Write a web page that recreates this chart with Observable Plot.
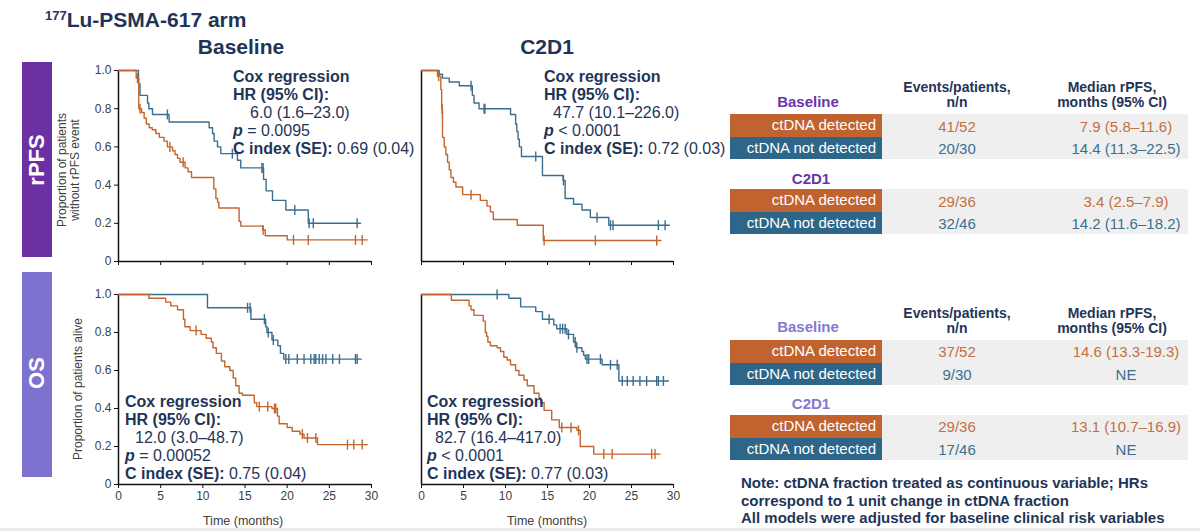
<!DOCTYPE html>
<html>
<head>
<meta charset="utf-8">
<script src="https://cdn.jsdelivr.net/npm/d3@7"></script>
<script src="https://cdn.jsdelivr.net/npm/@observablehq/plot@0.6"></script>
<style>
  body { margin: 0; background: #fff; }
  #page { position: relative; width: 1200px; height: 531px; overflow: hidden;
          font-family: "Liberation Sans", Arial, sans-serif; color: #1f3557; background: #fff; }
  .abs { position: absolute; white-space: nowrap; }
  .plot { position: absolute; }
</style>
</head>
<body>
<div id="page"></div>
<script>
// ---- axes ----
const timeTicks = [0, 5, 10, 15, 20, 25, 30];
const survTicks = [0, 0.2, 0.4, 0.6, 0.8, 1.0];

// ---- Kaplan–Meier step data: time of each drop (months) and survival after it ----
// rPFS, baseline sample
const rpfsBaseDetT = [0, 2.1, 2.4, 2.73, 3.04, 3.3, 3.64, 4.0, 4.43, 4.85, 5.4, 5.8, 6.4, 6.7, 7.0, 7.3, 7.9, 8.25, 8.66, 11.3, 11.55, 11.75, 11.9, 14.3, 14.5, 17.1, 17.4, 20.0, 29.5];
const rpfsBaseDetS = [1, 0.96, 0.80, 0.78, 0.75, 0.72, 0.70, 0.69, 0.67, 0.65, 0.63, 0.60, 0.58, 0.56, 0.54, 0.52, 0.49, 0.47, 0.44, 0.38, 0.33, 0.31, 0.28, 0.21, 0.185, 0.165, 0.135, 0.113, 0.113];
const rpfsBaseDetCens = [2.25, 2.55, 6.09, 7.67, 17.15, 20.75, 22.5, 28.1, 28.9];
const rpfsBaseNotT = [0, 2.37, 2.55, 3.44, 3.6, 4.03, 6.0, 10.75, 11.15, 11.34, 11.74, 12.13, 14.1, 14.5, 17.2, 17.5, 18.26, 19.84, 22.5, 28.7];
const rpfsBaseNotS = [1, 0.93, 0.87, 0.83, 0.80, 0.77, 0.73, 0.70, 0.67, 0.63, 0.60, 0.565, 0.53, 0.49, 0.43, 0.37, 0.32, 0.27, 0.20, 0.20];
const rpfsBaseNotCens = [5.8, 13.5, 17.0, 17.15, 20.9, 22.6, 23.1, 28.3];
// rPFS, C2D1 sample
const rpfsC2DetT = [0, 1.9, 2.3, 2.4, 2.5, 2.7, 2.9, 3.1, 3.3, 3.5, 3.8, 4.1, 4.9, 7.0, 7.8, 8.2, 8.55, 11.4, 14.5, 28.5];
const rpfsC2DetS = [1, 0.97, 0.90, 0.80, 0.65, 0.60, 0.56, 0.52, 0.48, 0.44, 0.415, 0.39, 0.35, 0.32, 0.29, 0.26, 0.22, 0.19, 0.11, 0.11];
const rpfsC2DetCens = [2.05, 2.45, 5.9, 14.6, 20.7, 28.0];
const rpfsC2NotT = [0, 2.1, 2.5, 3.3, 4.5, 6.05, 6.25, 6.85, 10.6, 11.2, 11.35, 11.5, 11.65, 11.9, 14.4, 16.85, 17.1, 18.1, 19.1, 20.1, 22.3, 29.5];
const rpfsC2NotS = [1, 0.98, 0.96, 0.94, 0.92, 0.87, 0.83, 0.80, 0.77, 0.72, 0.68, 0.64, 0.60, 0.55, 0.45, 0.425, 0.33, 0.30, 0.27, 0.23, 0.19, 0.19];
const rpfsC2NotCens = [5.9, 7.45, 7.55, 13.6, 16.9, 20.9, 22.5, 22.8, 28.2, 29.0];
// OS, baseline sample
const osBaseDetT = [0, 3.6, 5.6, 6.2, 7.0, 7.7, 7.87, 8.5, 9.8, 10.4, 11.0, 11.2, 11.6, 12.2, 12.6, 13.2, 13.6, 13.9, 14.3, 14.7, 16.1, 16.4, 18.2, 18.85, 19.05, 20.0, 20.6, 21.5, 22.0, 23.6, 29.5];
const osBaseDetS = [1, 0.98, 0.96, 0.94, 0.92, 0.87, 0.83, 0.81, 0.79, 0.77, 0.75, 0.72, 0.69, 0.65, 0.62, 0.60, 0.56, 0.52, 0.48, 0.47, 0.43, 0.41, 0.40, 0.36, 0.32, 0.30, 0.28, 0.265, 0.245, 0.21, 0.21];
const osBaseDetCens = [9.2, 16.7, 17.7, 18.5, 18.65, 21.8, 22.4, 23.4, 27.15, 27.9, 28.9];
const osBaseNotT = [0, 10.55, 15.7, 17.45, 17.6, 18.2, 18.9, 19.2, 19.6, 28.8];
const osBaseNotS = [1, 0.93, 0.87, 0.83, 0.80, 0.76, 0.73, 0.69, 0.66, 0.66];
const osBaseNotCens = [15.3, 15.6, 17.3, 17.75, 18.35, 19.84, 20.2, 21.2, 22.0, 22.8, 23.2, 23.4, 23.8, 24.2, 24.6, 25.4, 26.2, 28.1, 28.3];
// OS, C2D1 sample
const osC2DetT = [0, 3.56, 5.66, 5.9, 6.25, 7.35, 7.6, 7.75, 7.9, 8.2, 9.0, 9.4, 9.8, 10.2, 10.6, 11.2, 11.6, 12.2, 12.6, 13.4, 14.0, 14.2, 14.6, 15.5, 16.4, 18.5, 18.9, 20.5, 28.4];
const osC2DetS = [1, 0.97, 0.94, 0.92, 0.89, 0.86, 0.80, 0.78, 0.75, 0.73, 0.72, 0.70, 0.67, 0.655, 0.63, 0.60, 0.575, 0.55, 0.52, 0.48, 0.455, 0.43, 0.39, 0.34, 0.30, 0.285, 0.20, 0.16, 0.16];
const osC2DetCens = [16.7, 17.8, 18.7, 21.7, 22.7, 27.4, 27.8];
const osC2NotT = [0, 10.4, 11.8, 13.6, 14.4, 15.75, 16.1, 17.3, 18.1, 18.4, 19.1, 19.3, 19.5, 21.5, 23.5, 29.4];
const osC2NotS = [1, 0.98, 0.935, 0.91, 0.87, 0.84, 0.82, 0.79, 0.75, 0.72, 0.70, 0.68, 0.66, 0.63, 0.545, 0.545];
const osC2NotCens = [9.0, 15.2, 16.5, 16.8, 17.1, 17.5, 18.3, 18.5, 19.7, 19.9, 21.3, 22.5, 23.3, 23.9, 24.5, 25.2, 26.0, 26.8, 28.0, 28.2, 28.8];

// ---- Cox regression annotations (rPFS baseline, rPFS C2D1, OS baseline, OS C2D1) ----
const coxHR = ["6.0 (1.6–23.0)", "47.7 (10.1–226.0)", "12.0 (3.0–48.7)", "82.7 (16.4–417.0)"];
const coxP = ["= 0.0095", "< 0.0001", "= 0.00052", "< 0.0001"];
const coxC = ["0.69 (0.04)", "0.72 (0.03)", "0.75 (0.04)", "0.77 (0.03)"];

// ---- summary tables ----
const groupLabels = ["ctDNA detected", "ctDNA not detected"];
const rpfsBaseEvents = ["41/52", "20/30"];
const rpfsBaseMedian = ["7.9 (5.8–11.6)", "14.4 (11.3–22.5)"];
const rpfsC2Events = ["29/36", "32/46"];
const rpfsC2Median = ["3.4 (2.5–7.9)", "14.2 (11.6–18.2)"];
const osBaseEvents = ["37/52", "9/30"];
const osBaseMedian = ["14.6 (13.3-19.3)", "NE"];
const osC2Events = ["29/36", "17/46"];
const osC2Median = ["13.1 (10.7–16.9)", "NE"];
const noteLines = [
  "Note: ctDNA fraction treated as continuous variable; HRs",
  "correspond to 1 unit change in ctDNA fraction",
  "All models were adjusted for baseline clinical risk variables"
];

// ---- palette ----
const ORANGE = "#c4652f", BLUE = "#3a6e8e";
const CELL_ORANGE = "#c0632f", CELL_BLUE = "#2d6689";
const TXT_ORANGE = "#c4703f", TXT_BLUE = "#3b6f90";
const NAVY = "#1f3557";

const page = document.getElementById("page");
function put(html, style) {
  const d = document.createElement("div");
  d.className = "abs";
  d.innerHTML = html;
  Object.assign(d.style, style);
  page.appendChild(d);
  return d;
}
function centered(html, cx, cy, style) {
  return put(html, Object.assign({left: cx + "px", top: cy + "px", transform: "translate(-50%,-50%)"}, style));
}

// vertical censor tick used as a dot symbol
const censorTick = {
  draw(ctx, size) {
    const h = Math.sqrt(size / Math.PI);
    ctx.moveTo(0, -h);
    ctx.lineTo(0, h);
  }
};
function survAt(T, S, t) {
  let s = S[0];
  for (let i = 0; i < T.length; i++) if (T[i] <= t) s = S[i];
  return s;
}
function seriesMarks(T, S, C, color) {
  const steps = T.map((t, i) => ({t, s: S[i]}));
  const cens = C.map(t => ({t, s: survAt(T, S, t)}));
  return [
    Plot.line(steps, {x: "t", y: "s", curve: "step-after", stroke: color, strokeWidth: 1.4}),
    Plot.dot(cens, {x: "t", y: "s", symbol: censorTick, r: 5, fill: "none", stroke: color, strokeWidth: 1.4})
  ];
}

function kmPanel({left, top, width, height, marginLeft, marginBottom, yLabels, xLabels, det, not}) {
  const marks = [
    Plot.ruleY([0], {stroke: "#111", strokeWidth: 1.5}),
    Plot.ruleX([0], {stroke: "#111", strokeWidth: 1.5}),
    Plot.axisX({ticks: timeTicks, tickSize: 4, tickPadding: 3, label: null,
      tickFormat: xLabels ? d => String(d) : () => "", fontSize: 12, stroke: "#111", fill: "#404040"})
  ];
  if (yLabels) {
    marks.push(Plot.axisY({ticks: survTicks, tickSize: 4, tickPadding: 3, label: null,
      tickFormat: d => d === 0 ? "0" : d.toFixed(1), fontSize: 12, stroke: "#111", fill: "#404040"}));
  }
  marks.push(...seriesMarks(...not, BLUE));
  marks.push(...seriesMarks(...det, ORANGE));
  const svg = Plot.plot({
    width, height, marginLeft, marginRight: 12, marginTop: 10, marginBottom,
    x: {domain: [0, 30]},
    y: {domain: [0, 1], axis: yLabels ? undefined : null},
    style: {background: "transparent", fontFamily: "Liberation Sans, Arial, sans-serif", fontSize: "12px", overflow: "visible"},
    marks
  });
  const wrap = document.createElement("div");
  wrap.className = "plot";
  wrap.style.left = left + "px";
  wrap.style.top = top + "px";
  wrap.appendChild(svg);
  page.appendChild(wrap);
}

// ---- headings ----
put('<sup style="font-size:13px;vertical-align:7px;">177</sup>Lu-PSMA-617 arm',
    {left: "45px", top: "4px", fontSize: "21px", fontWeight: "bold", color: NAVY, lineHeight: "24px"});
centered("Baseline", 241, 47, {fontSize: "21px", fontWeight: "bold", color: NAVY});
centered("C2D1", 547, 47, {fontSize: "21px", fontWeight: "bold", color: NAVY});

// ---- row badges ----
put("", {left: "22px", top: "62px", width: "30px", height: "195px", background: "#6b30a4"});
put("", {left: "22px", top: "272px", width: "30px", height: "205px", background: "#7d72cf"});
centered("rPFS", 37, 160, {fontSize: "22px", fontWeight: "bold", color: "#fff", transform: "translate(-50%,-50%) rotate(-90deg)"});
centered("OS", 37, 373, {fontSize: "22px", fontWeight: "bold", color: "#fff", transform: "translate(-50%,-50%) rotate(-90deg)"});

// ---- y-axis titles ----
centered("Proportion of patients<br>without rPFS event", 69, 170,
  {fontSize: "12px", lineHeight: "13px", color: "#404040", textAlign: "center", transform: "translate(-50%,-50%) rotate(-90deg)"});
centered("Proportion of patients alive", 78, 389,
  {fontSize: "12px", color: "#404040", transform: "translate(-50%,-50%) rotate(-90deg)"});

// ---- panels ----
kmPanel({left: 60, top: 60, width: 323, height: 213, marginLeft: 58, marginBottom: 12, yLabels: true, xLabels: false,
  det: [rpfsBaseDetT, rpfsBaseDetS, rpfsBaseDetCens], not: [rpfsBaseNotT, rpfsBaseNotS, rpfsBaseNotCens]});
kmPanel({left: 400, top: 60, width: 285, height: 213, marginLeft: 21, marginBottom: 12, yLabels: false, xLabels: false,
  det: [rpfsC2DetT, rpfsC2DetS, rpfsC2DetCens], not: [rpfsC2NotT, rpfsC2NotS, rpfsC2NotCens]});
kmPanel({left: 60, top: 284, width: 323, height: 224, marginLeft: 58, marginBottom: 24, yLabels: true, xLabels: true,
  det: [osBaseDetT, osBaseDetS, osBaseDetCens], not: [osBaseNotT, osBaseNotS, osBaseNotCens]});
kmPanel({left: 400, top: 284, width: 285, height: 224, marginLeft: 21, marginBottom: 24, yLabels: false, xLabels: true,
  det: [osC2DetT, osC2DetS, osC2DetCens], not: [osC2NotT, osC2NotS, osC2NotCens]});

centered("Time (months)", 243, 521, {fontSize: "12.5px", color: "#404040"});
centered("Time (months)", 547, 521, {fontSize: "12.5px", color: "#404040"});

// ---- Cox regression notes ----
function coxNote(i, left, top, indent) {
  const html =
    '<b>Cox regression</b><br>' +
    '<b>HR (95% CI):</b><br>' +
    '<span style="padding-left:' + indent + 'px">' + coxHR[i] + '</span><br>' +
    '<b><i>p</i></b> ' + coxP[i] + '<br>' +
    '<b>C index (SE):</b> ' + coxC[i];
  put(html, {left: left + "px", top: top + "px", fontSize: "16px", lineHeight: "18px", color: NAVY});
}
coxNote(0, 233, 68, 17);
coxNote(1, 544, 68, 9);
coxNote(2, 125, 393, 10);
coxNote(3, 427, 393, 8);

// ---- summary tables ----
function tableBlock({headCy, baseCy, c2Cy, rowTops, labelColor, baseEvents, baseMedian, c2Events, c2Median}) {
  const hStyle = {fontSize: "14px", fontWeight: "bold", lineHeight: "15px", color: NAVY, textAlign: "center"};
  centered("Events/patients,<br>n/n", 957, headCy, hStyle);
  centered("Median rPFS,<br>months (95% CI)", 1112, headCy, hStyle);
  centered("Baseline", 808, baseCy, {fontSize: "15px", fontWeight: "bold", color: labelColor});
  centered("C2D1", 811, c2Cy, {fontSize: "15px", fontWeight: "bold", color: labelColor});
  const rowH = 22.5;
  const events = [...baseEvents, ...c2Events];
  const medians = [...baseMedian, ...c2Median];
  rowTops.forEach((top, i) => {
    const g = i % 2;
    put("", {left: "730px", top: top + "px", width: "458px", height: rowH + "px", background: "#efefef"});
    put(groupLabels[g], {left: "730px", top: top + "px", width: "146px", height: rowH + "px", paddingRight: "6px",
      textAlign: "right", lineHeight: rowH + "px", fontSize: "15px", color: "#fff",
      background: g === 0 ? CELL_ORANGE : CELL_BLUE});
    const c = g === 0 ? TXT_ORANGE : TXT_BLUE;
    centered(events[i], 957, top + rowH / 2, {fontSize: "15px", color: c});
    centered(medians[i], 1126, top + rowH / 2, {fontSize: "15px", color: c});
  });
}
tableBlock({headCy: 95, baseCy: 100.7, c2Cy: 178, rowTops: [114.3, 136.8, 189.3, 211.8], labelColor: "#6b35a8",
  baseEvents: rpfsBaseEvents, baseMedian: rpfsBaseMedian, c2Events: rpfsC2Events, c2Median: rpfsC2Median});
tableBlock({headCy: 321, baseCy: 326, c2Cy: 403, rowTops: [340, 362.5, 415, 437.5], labelColor: "#8578cf",
  baseEvents: osBaseEvents, baseMedian: osBaseMedian, c2Events: osC2Events, c2Median: osC2Median});

put(noteLines.join("<br>"), {left: "741px", top: "474px", fontSize: "15px", lineHeight: "17.7px", fontWeight: "bold", color: NAVY});

// slide footer strip
put("", {left: "0px", top: "528px", width: "1200px", height: "3px", background: "#ececec"});
</script>
</body>
</html>
